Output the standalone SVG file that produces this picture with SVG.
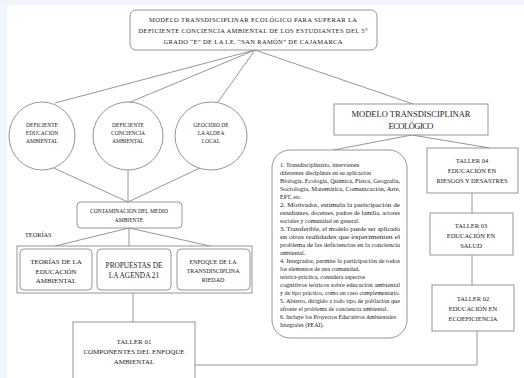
<svg xmlns="http://www.w3.org/2000/svg" width="524" height="378" viewBox="0 0 524 378">
<style>
.bx{fill:#fff;stroke:#8a8a8a;stroke-width:0.9}
.ln{fill:none;stroke:#8a8a8a;stroke-width:0.9}
text{font-family:"Liberation Serif","Times New Roman",serif;fill:#222;text-anchor:middle}
.s55{font-size:5.5px}
.s6{font-size:6.3px}
.s65{font-size:6.5px}
.s7{font-size:7px}
.p{font-size:6px;text-anchor:start}
</style>
<rect x="0" y="0" width="524" height="378" fill="#eef5fc"/>
<rect x="7" y="5" width="517" height="373" fill="#fff"/>
<g id="connectors">
<path class="ln" d="M255 50 L55 103 M255 50 L128 103 M255 50 L218 102 M255 50 L413 104"/>
<path class="ln" d="M45 164 L128 202 M128 170 L128 202 M204 166 L128 202"/>
<path class="ln" d="M129 228 L55 246 M129 228 L129 246 M129 228 L210 246"/>
<path class="ln" d="M133 293 L133 322"/>
<path class="ln" d="M412 135 L333 150 M412 135 L490 148"/>
<path class="ln" d="M472 193 L472 213 M472 255 L472 285 M477 331 L477 365 L195 365"/>
</g>
<g id="top">
<rect class="bx" x="130" y="10" width="247" height="40" rx="6"/>
<text class="s65" x="253" y="22" textLength="208">MODELO TRANSDISCIPLINAR ECOLÓGICO PARA SUPERAR LA</text>
<text class="s65" x="253" y="33" textLength="229">DEFICIENTE CONCIENCIA AMBIENTAL DE LOS ESTUDIANTES DEL 5°</text>
<text class="s65" x="253" y="44" textLength="179">GRADO “E” DE LA I.E. “SAN RAMÓN” DE CAJAMARCA</text>
</g>
<g id="c1">
<ellipse class="bx" cx="42" cy="136" rx="33" ry="34"/>
<text class="s55" x="42" y="127">DEFICIENTE</text>
<text class="s55" x="42" y="135">EDUCACIÓN</text>
<text class="s55" x="42" y="143">AMBIENTAL</text>
</g>
<g id="c2">
<ellipse class="bx" cx="128" cy="136" rx="35" ry="34"/>
<text class="s55" x="128" y="127">DEFICIENTE</text>
<text class="s55" x="128" y="135">CONCIENCIA</text>
<text class="s55" x="128" y="143">AMBIENTAL</text>
</g>
<g id="c3">
<ellipse class="bx" cx="211" cy="136" rx="36" ry="34"/>
<text class="s55" x="211" y="127">GEOCIDIO DE</text>
<text class="s55" x="211" y="135">LA ALDEA</text>
<text class="s55" x="211" y="143">LOCAL</text>
</g>
<g id="contaminacion">
<rect class="bx" x="77" y="202" width="105" height="26" rx="4"/>
<text class="s55" x="129" y="213">CONTAMINACIÓN DEL MEDIO</text>
<text class="s55" x="129" y="222">AMBIENTE</text>
</g>
<text class="s6" x="25" y="237" style="text-anchor:start">TEORÍAS</text>
<g id="teorias">
<rect class="bx" x="17" y="246" width="235" height="47"/>
<g id="t1">
<rect class="bx" x="20" y="249" width="72" height="41" rx="4"/>
<text class="s7" x="56" y="264">TEORÍAS DE LA</text>
<text class="s7" x="56" y="273.5">EDUCACIÓN</text>
<text class="s7" x="56" y="283">AMBIENTAL</text>
</g>
<g id="t2">
<rect class="bx" x="97" y="249" width="74" height="41" rx="4"/>
<text x="134" y="268" style="font-size:7.3px">PROPUESTAS DE</text>
<text x="134" y="278" style="font-size:7.3px">LA AGENDA 21</text>
</g>
<g id="t3">
<rect class="bx" x="177" y="249" width="73" height="41" rx="4"/>
<text x="213" y="264" style="font-size:6px">ENFOQUE DE LA</text>
<text x="213" y="273" style="font-size:6px">TRANSDISCIPLINA</text>
<text x="213" y="282" style="font-size:6px">RIEDAD</text>
</g>
</g>
<g id="taller01">
<rect class="bx" x="73" y="322" width="122" height="70"/>
<text class="s7" x="134" y="344">TALLER 01</text>
<text class="s7" x="134" y="354">COMPONENTES DEL ENFOQUE</text>
<text class="s7" x="134" y="364">AMBIENTAL</text>
</g>
<g id="modelo">
<rect class="bx" x="334" y="104" width="154" height="31"/>
<text x="411" y="117" style="font-size:8.5px" textLength="119">MODELO TRANSDISCIPLINAR</text>
<text x="411" y="129" style="font-size:8.5px" textLength="45">ECOLÓGICO</text>
</g>
<g id="caracteristicas">
<rect class="bx" x="272" y="150" width="135" height="188" rx="18"/>
<text class="p" x="280" y="167">1. Transdisciplinario, intervienen</text>
<text class="p" x="280" y="175">diferentes disciplinas en su aplicación</text>
<text class="p" x="280" y="183" textLength="120" lengthAdjust="spacingAndGlyphs">Biología, Ecología, Química, Física, Geografía,</text>
<text class="p" x="280" y="191" textLength="120" lengthAdjust="spacingAndGlyphs">Sociología, Matemática, Comunicación, Arte,</text>
<text class="p" x="280" y="199">EPT, etc.</text>
<text class="p" x="280" y="207" textLength="120" lengthAdjust="spacingAndGlyphs">2. Motivador, estimula la participación de</text>
<text class="p" x="280" y="215" textLength="120" lengthAdjust="spacingAndGlyphs">estudiantes, docentes, padres de familia, actores</text>
<text class="p" x="280" y="223">sociales y comunidad en general.</text>
<text class="p" x="280" y="231" textLength="120" lengthAdjust="spacingAndGlyphs">3. Transferible, el modelo puede ser aplicado</text>
<text class="p" x="280" y="239" textLength="120" lengthAdjust="spacingAndGlyphs">en otras realidades que experimenten el</text>
<text class="p" x="280" y="247" textLength="120" lengthAdjust="spacingAndGlyphs">problema de las deficiencias en la conciencia</text>
<text class="p" x="280" y="255">ambiental.</text>
<text class="p" x="280" y="263" textLength="120" lengthAdjust="spacingAndGlyphs">4. Integrador, permite la participación de todos</text>
<text class="p" x="280" y="271">los elementos de una comunidad.</text>
<text class="p" x="280" y="279">teórica-práctica, considera aspectos</text>
<text class="p" x="280" y="287" textLength="120" lengthAdjust="spacingAndGlyphs">cognitivos teóricos sobre educación ambiental</text>
<text class="p" x="280" y="295" textLength="120" lengthAdjust="spacingAndGlyphs">y de tipo práctico, como un caso complementario.</text>
<text class="p" x="280" y="303" textLength="120" lengthAdjust="spacingAndGlyphs">5. Abierto, dirigido a todo tipo de población que</text>
<text class="p" x="280" y="311">afronte el problema de conciencia ambiental.</text>
<text class="p" x="280" y="319" textLength="116" lengthAdjust="spacingAndGlyphs">6. Incluye los Proyectos Educativos Ambientales</text>
<text class="p" x="280" y="327">Integrales (PEAI).</text>
</g>
<g id="taller04">
<rect class="bx" x="427" y="148" width="91" height="45"/>
<text class="s65" x="472" y="163">TALLER 04</text>
<text class="s65" x="472" y="173">EDUCACIÓN EN</text>
<text class="s65" x="472" y="183">RIESGOS Y DESASTRES</text>
</g>
<g id="taller03">
<rect class="bx" x="430" y="213" width="83" height="42"/>
<text class="s65" x="471" y="228">TALLER 03</text>
<text class="s65" x="471" y="238">EDUCACIÓN EN</text>
<text class="s65" x="471" y="248">SALUD</text>
</g>
<g id="taller02">
<rect class="bx" x="432" y="285" width="82" height="46"/>
<text class="s65" x="473" y="301">TALLER 02</text>
<text class="s65" x="473" y="311">EDUCACIÓN EN</text>
<text class="s65" x="473" y="321">ECOEFICIENCIA</text>
</g>
</svg>
